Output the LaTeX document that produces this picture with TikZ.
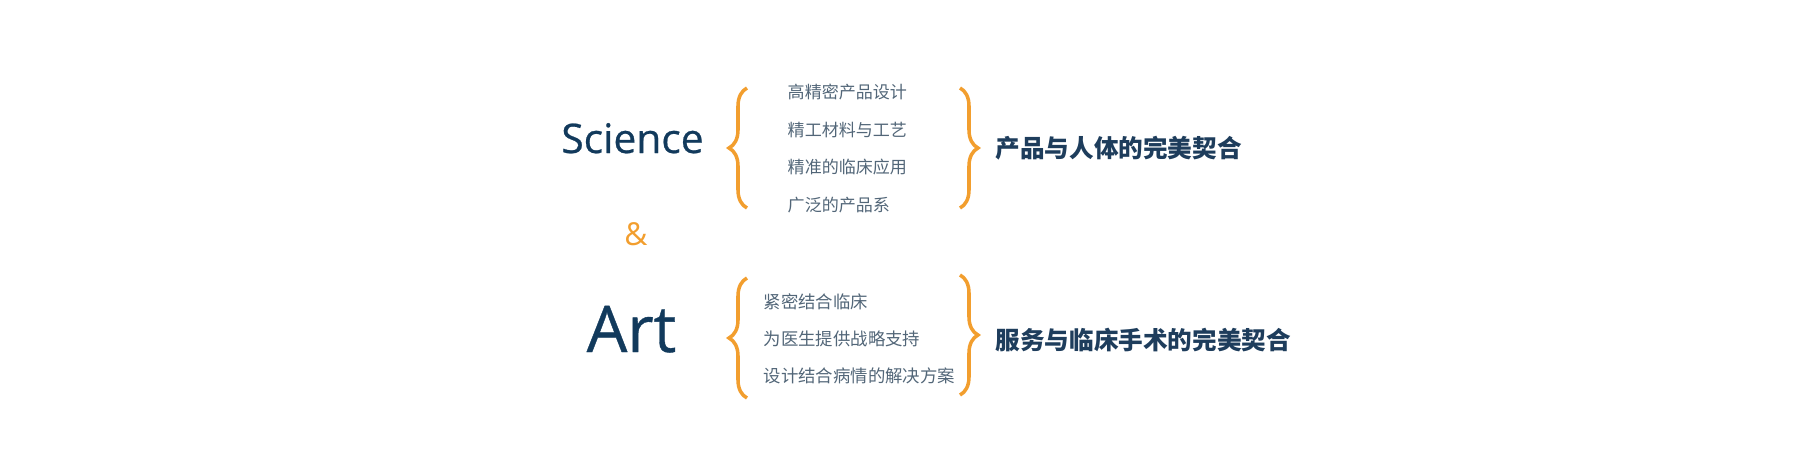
\documentclass[tikz,border=0pt]{standalone}
\usepackage{fontspec}
\setmainfont{Open Sans}
\newfontfamily\headfont[FakeBold=0.6]{Open Sans}
\newfontfamily\cjk{Noto Sans CJK SC}
\usetikzlibrary{
    decorations.pathreplacing,
}
\definecolor{navy}{HTML}{123A5C}
\definecolor{slate}{HTML}{526678}
\definecolor{deep}{HTML}{1E3D5C}
\definecolor{amber}{HTML}{F29E2E}

\begin{document}
\begin{tikzpicture}[
    item/.style={anchor=west,inner sep=0pt,text=slate,font=\cjk\fontsize{4.85}{6}\selectfont},
    aitem/.style={item,font=\cjk\fontsize{4.95}{6}\selectfont},
    fit result/.style={anchor=west,inner sep=0pt,text=deep,font=\cjk\bfseries\fontsize{7}{8}\selectfont},
    curly/.style={draw=amber,line width=1pt,decorate,decoration={brace,amplitude=0.18cm}},
  ]
  \useasboundingbox (0,0) rectangle (18,-4.7);

  \node[anchor=base,inner sep=0pt,text=navy,font=\headfont\fontsize{11.6}{14}\selectfont] (sci) at (6.325,-1.53) {Science};
  \node[anchor=base,inner sep=0pt,text=amber,font=\fontsize{9}{11}\selectfont]            (amp) at (6.36,-2.45)  {\&};
  \node[anchor=base,inner sep=0pt,text=navy,font=\headfont\fontsize{18.3}{20}\selectfont] (art) at (6.315,-3.52) {Art};

  \node[item]  (s1) at (7.87,-0.92)  {高精密产品设计};
  \node[item]  (s2) at (7.87,-1.297) {精工材料与工艺};
  \node[item]  (s3) at (7.87,-1.673) {精准的临床应用};
  \node[item]  (s4) at (7.87,-2.05)  {广泛的产品系};

  \node[aitem] (a1) at (7.63,-3.02)  {紧密结合临床};
  \node[aitem] (a2) at (7.63,-3.385) {为医生提供战略支持};
  \node[aitem] (a3) at (7.63,-3.76)  {设计结合病情的解决方案};

  \node[fit result] (sres) at (9.95,-1.48) {产品与人体的完美契合};
  \node[fit result] (ares) at (9.95,-3.40) {服务与临床手术的完美契合};

  \coordinate (slb) at (7.47,-2.08);
  \coordinate (slt) at (7.47,-0.88);
  \coordinate (srt) at (9.60,-0.88);
  \coordinate (srb) at (9.60,-2.08);
  \coordinate (alb) at (7.47,-3.98);
  \coordinate (alt) at (7.47,-2.78);
  \coordinate (art2) at (9.60,-2.75);
  \coordinate (arb) at (9.60,-3.95);

  \draw[curly] (slb) -- (slt);
  \draw[curly] (srt) -- (srb);
  \draw[curly] (alb) -- (alt);
  \draw[curly] (art2) -- (arb);
\end{tikzpicture}
\end{document}
